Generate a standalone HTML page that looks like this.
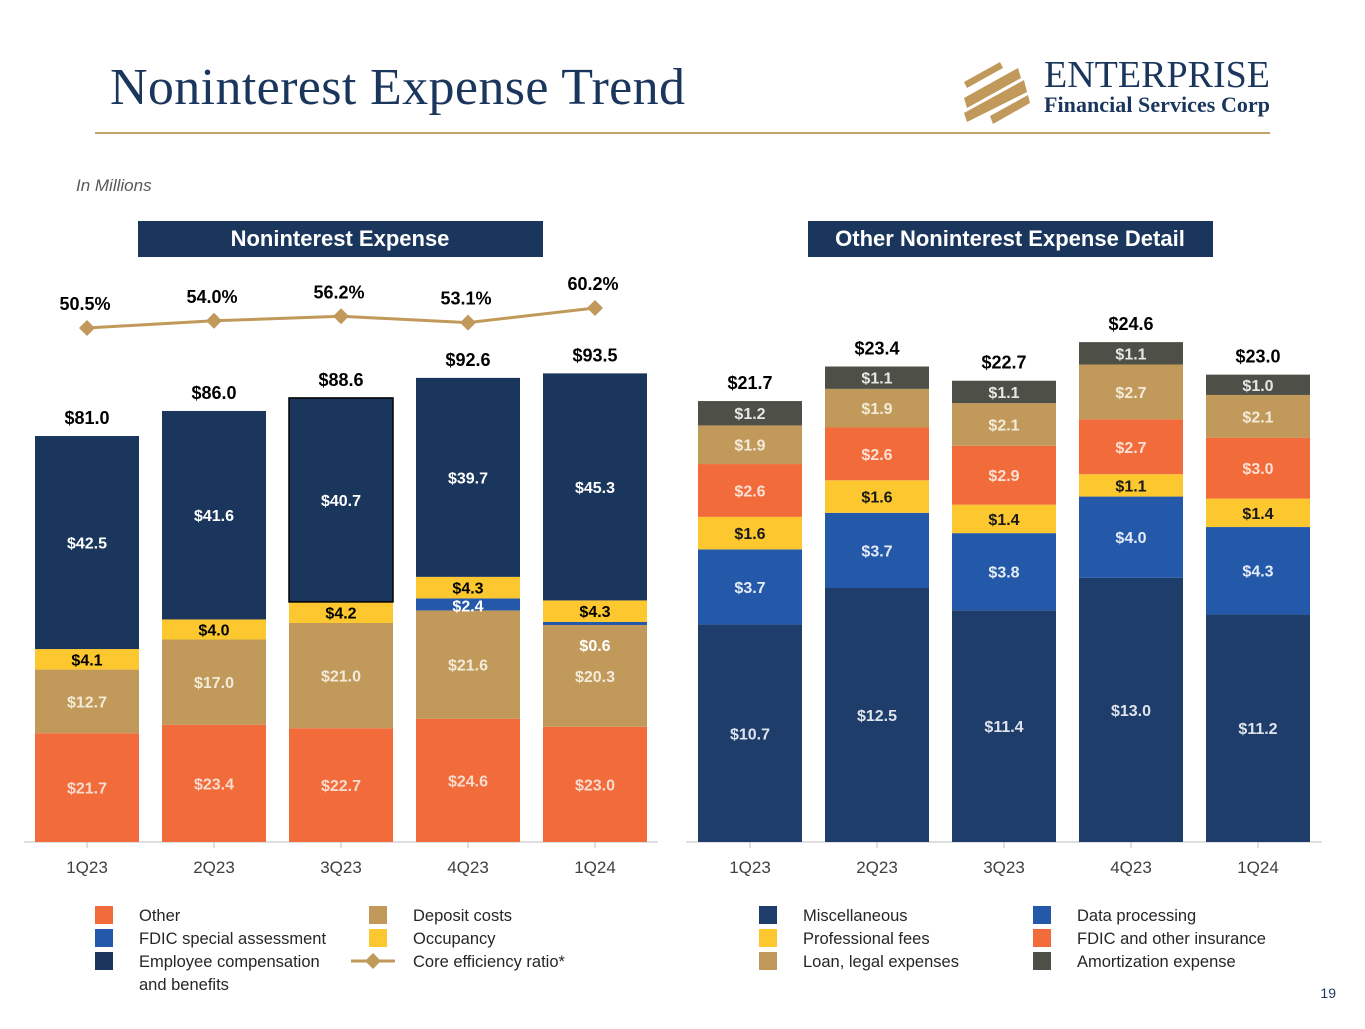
<!DOCTYPE html>
<html><head><meta charset="utf-8">
<style>
body{margin:0;width:1365px;height:1024px;background:#fff;overflow:hidden;font-family:"Liberation Sans",sans-serif;}
svg text{font-family:"Liberation Sans",sans-serif;}
</style></head>
<body>
<svg id="s" width="1365" height="1024" viewBox="0 0 1365 1024" xmlns="http://www.w3.org/2000/svg">
<text x="110" y="104" font-size="52" fill="#1b365d" textLength="575" style="font-family:'Liberation Serif',serif">Noninterest Expense Trend</text>
<line x1="95" y1="133" x2="1270" y2="133" stroke="#c3a36b" stroke-width="2"/>
<g>
<polygon points="964,82 1000,62 1003,68 967,88" fill="#c19a5b"/>
<polygon points="964,98 1018,68 1021,78 967,108" fill="#c19a5b"/>
<polygon points="964,113 1024,80 1027,92 967,122" fill="#c19a5b"/>
<polygon points="990,116 1028,95 1030,103 993,124" fill="#c19a5b"/>
<text x="1044" y="87" font-size="38" fill="#1b365d" textLength="226" style="font-family:'Liberation Serif',serif">ENTERPRISE</text>
<text x="1044" y="112" font-size="22" font-weight="bold" fill="#1b365d" textLength="226" style="font-family:'Liberation Serif',serif">Financial Services Corp</text>
</g>
<text x="76" y="191" font-size="17" font-style="italic" fill="#595959">In Millions</text>
<rect x="138" y="221" width="405" height="36" fill="#1b365d"/>
<text x="340" y="246" text-anchor="middle" font-size="22" font-weight="bold" fill="#fff">Noninterest Expense</text>
<rect x="808" y="221" width="405" height="36" fill="#1b365d"/>
<text x="1010" y="246" text-anchor="middle" font-size="22" font-weight="bold" fill="#fff">Other Noninterest Expense Detail</text>
<line x1="24" y1="842" x2="658" y2="842" stroke="#bfbfbf"/>
<line x1="686" y1="842" x2="1322" y2="842" stroke="#bfbfbf"/>
<g id="L"></g><g id="R"></g><g id="legend"></g>
<text x="1336" y="998" text-anchor="end" font-size="14" fill="#1b365d">19</text>
</svg>
<script>
const categories=["1Q23","2Q23","3Q23","4Q23","1Q24"];
const other=[21.7,23.4,22.7,24.6,23.0];
const depositCosts=[12.7,17.0,21.0,21.6,20.3];
const fdicSpecial=[0,0,0,2.4,0.6];
const occupancy=[4.1,4.0,4.2,4.3,4.3];
const employeeComp=[42.5,41.6,40.7,39.7,45.3];
const leftTotals=["$81.0","$86.0","$88.6","$92.6","$93.5"];
const efficiencyRatio=[50.5,54.0,56.2,53.1,60.2];
const misc=[10.7,12.5,11.4,13.0,11.2];
const dataProcessing=[3.7,3.7,3.8,4.0,4.3];
const professionalFees=[1.6,1.6,1.4,1.1,1.4];
const fdicInsurance=[2.6,2.6,2.9,2.7,3.0];
const loanLegal=[1.9,1.9,2.1,2.7,2.1];
const amortization=[1.2,1.1,1.1,1.1,1.0];
const rightTotals=["$21.7","$23.4","$22.7","$24.6","$23.0"];

const NS="http://www.w3.org/2000/svg";
function mk(tag,attrs,parent,txt){const e=document.createElementNS(NS,tag);for(const k in attrs)e.setAttribute(k,attrs[k]);if(txt!==undefined)e.textContent=txt;parent.appendChild(e);return e;}
const base=842;
const lx=i=>87+i*127, ly=v=>base-v*5.012;
const rx=i=>750+i*127, ry=v=>base-v*20.32;
const ey=v=>328-(v-50.5)*2.06;
const fmt=v=>"$"+v.toFixed(1);

const L=document.getElementById('L');
const leftSeries=[
 {d:other,c:"#f26b3a",t:"#f7dccf",n:"other"},
 {d:depositCosts,c:"#c19a5b",t:"#f3ead8",n:"deposit-costs"},
 {d:fdicSpecial,c:"#2458a8",t:"#ffffff",n:"fdic-special"},
 {d:occupancy,c:"#fdc82f",t:"#000000",n:"occupancy"},
 {d:employeeComp,c:"#1b365d",t:"#ffffff",n:"employee-comp"}];
categories.forEach((cat,i)=>{
 let cum=0;const cx=lx(i);
 leftSeries.forEach((s,si)=>{
  const v=s.d[i]; if(v<=0){return;}
  const y0=ly(cum),y1=ly(cum+v);
  const r=mk('rect',{x:cx-52,y:y1,width:104,height:y0-y1,fill:s.c},L);
  
  
  if(s.n==='employee-comp'&&i===2){r.setAttribute('stroke','#000');r.setAttribute('stroke-width','1.5');}
  let ty=(y0+y1)/2+6;
  if(s.n==='fdic-special'&&v<1) ty=y0+26;
  if(s.n==='fdic-special'&&v>=1) ty=(y0+y1)/2+7;
  const t=mk('text',{x:cx,y:ty,'text-anchor':'middle','font-size':16,'font-weight':'bold',fill:s.t},L,fmt(v));
  
  
  cum+=v;
 });
 const tt=mk('text',{x:cx,y:ly(cum)-12,'text-anchor':'middle','font-size':18,'font-weight':'bold',fill:'#000'},L,leftTotals[i]);
 
 
 const xl=mk('text',{x:cx,y:873,'text-anchor':'middle','font-size':17,fill:'#404040'},L,cat);
 
 
 mk('line',{x1:cx,y1:842,x2:cx,y2:848,stroke:'#bfbfbf'},L);
});
const pts=efficiencyRatio.map((v,i)=>lx(i)+','+ey(v)).join(' ');
const pl=mk('polyline',{points:pts,fill:'none',stroke:'#c19a5b','stroke-width':3},L);


efficiencyRatio.forEach((v,i)=>{
 const x=lx(i),y=ey(v);
 const m=mk('polygon',{points:`${x},${y-8} ${x+8},${y} ${x},${y+8} ${x-8},${y}`,fill:'#c19a5b'},L);
 
 
 const t=mk('text',{x:x-2,y:y-18,'text-anchor':'middle','font-size':18,'font-weight':'bold',fill:'#000'},L,v.toFixed(1)+'%');
 
 
});

const R=document.getElementById('R');
const rightSeries=[
 {d:misc,c:"#1f3d6b",t:"#dfe4ec",n:"miscellaneous"},
 {d:dataProcessing,c:"#2458a8",t:"#e6ecf6",n:"data-processing"},
 {d:professionalFees,c:"#fdc82f",t:"#1a1a1a",n:"professional-fees"},
 {d:fdicInsurance,c:"#f26b3a",t:"#fbe0d5",n:"fdic-insurance"},
 {d:loanLegal,c:"#c19a5b",t:"#f3ead8",n:"loan-legal"},
 {d:amortization,c:"#4e4f46",t:"#e6e6e6",n:"amortization"}];
categories.forEach((cat,i)=>{
 let cum=0;const cx=rx(i);
 rightSeries.forEach(s=>{
  const v=s.d[i];const y0=ry(cum),y1=ry(cum+v);
  const r=mk('rect',{x:cx-52,y:y1,width:104,height:y0-y1,fill:s.c},R);
  
  
  const t=mk('text',{x:cx,y:(y0+y1)/2+6,'text-anchor':'middle','font-size':16,'font-weight':'bold',fill:s.t},R,fmt(v));
  
  
  cum+=v;
 });
 const tt=mk('text',{x:cx,y:ry(cum)-12,'text-anchor':'middle','font-size':18,'font-weight':'bold',fill:'#000'},R,rightTotals[i]);
 
 
 const xl=mk('text',{x:cx,y:873,'text-anchor':'middle','font-size':17,fill:'#404040'},R,cat);
 
 
 mk('line',{x1:cx,y1:842,x2:cx,y2:848,stroke:'#bfbfbf'},R);
});

const G=document.getElementById('legend');
const legendItems=[
 [95,"#f26b3a",["Other"],0],[95,"#2458a8",["FDIC special assessment"],1],[95,"#1b365d",["Employee compensation","and benefits"],2],
 [369,"#c19a5b",["Deposit costs"],0],[369,"#fdc82f",["Occupancy"],1],[369,null,["Core efficiency ratio*"],2],
 [759,"#1f3d6b",["Miscellaneous"],0],[759,"#fdc82f",["Professional fees"],1],[759,"#c19a5b",["Loan, legal expenses"],2],
 [1033,"#2458a8",["Data processing"],0],[1033,"#f26b3a",["FDIC and other insurance"],1],[1033,"#4e4f46",["Amortization expense"],2]];
legendItems.forEach(it=>{
 const [x,c,lines,row]=it;const y=906+row*23;
 if(c){const r=mk('rect',{x:x,y:y,width:18,height:18,fill:c},G);
  
  }
 else{mk('line',{x1:x-18,y1:y+9,x2:x+26,y2:y+9,stroke:'#c19a5b','stroke-width':3},G);
  const d=mk('polygon',{points:`${x+4},${y+1} ${x+12},${y+9} ${x+4},${y+17} ${x-4},${y+9}`,fill:'#c19a5b'},G);
  
  }
 lines.forEach((l,k)=>{const t=mk('text',{x:x+44,y:y+15+k*23,'font-size':16.5,fill:'#262626'},G,l);
  
  });
});
</script>
</body></html>
